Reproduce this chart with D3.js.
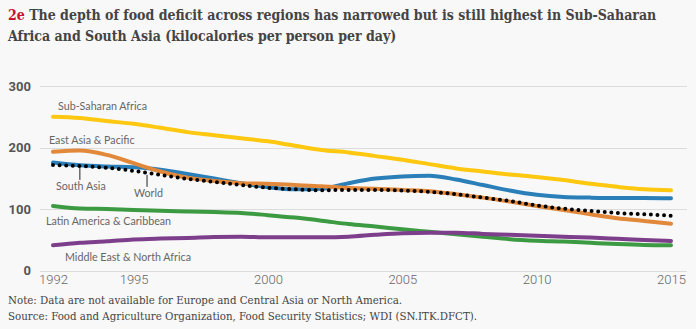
<!DOCTYPE html>
<meta charset="utf-8">
<style>

body {
  margin: 0;
  background: #f8f8f8;
}

svg {
  display: block;
  font-family: "Open Sans", sans-serif;
}

.title {
  font-family: "DejaVu Serif Condensed", "DejaVu Serif", serif;
  font-weight: bold;
  font-size: 14px;
  fill: #444;
}

.title .num {
  fill: #c4122f;
}

.note {
  font-family: "DejaVu Serif Condensed", "DejaVu Serif", serif;
  font-size: 11.4px;
  fill: #444;
}

.grid line {
  stroke: #dcdcdc;
  shape-rendering: crispEdges;
}

.axis--y text {
  font-family: Roboto, sans-serif;
  font-weight: bold;
  font-size: 13px;
  fill: #555;
}

.axis--x text {
  font-family: Roboto, sans-serif;
  font-weight: 300;
  font-size: 13px;
  fill: #666;
}

.series-label {
  font-family: Lato, sans-serif;
  font-size: 10.7px;
  fill: #666;
}

.line {
  fill: none;
  stroke-width: 4;
  stroke-linejoin: round;
  stroke-linecap: round;
}

</style>
<svg width="696" height="329"></svg>
<script src="https://d3js.org/d3.v7.min.js"></script>
<script>

var years = d3.range(1992, 2016);

var subSaharanAfrica = [250, 248, 243, 238.5, 232, 225, 220, 215, 210, 203, 196, 192, 186, 180, 173, 166, 161, 156, 152, 147, 141, 136, 132, 130.5];
var eastAsiaPacific  = [193, 195, 188, 174.5, 161, 151, 145.5, 142, 141, 139, 137, 134, 133, 131, 129, 124, 118.5, 112, 105, 98.5, 91.5, 85, 80.5, 76];
var southAsia        = [175.5, 171, 169, 168, 164, 157, 149.5, 142, 135.5, 132, 133, 142, 149.5, 153, 154, 148, 139, 130, 123, 119.5, 118.5, 118, 118, 117.5];
var world            = [171.5, 170, 167, 162, 155.5, 149, 144, 139, 134.5, 132, 130.5, 131, 131, 130, 128, 124, 118.5, 113, 106, 100.5, 97, 93.5, 91.5, 89];
var latinAmerica     = [105, 101, 100, 98.5, 97, 96, 95, 93.5, 90, 86, 81, 75.5, 71.5, 67, 63, 59, 55, 51, 48.5, 47, 45, 43, 41.5, 41];
var middleEast       = [41, 45, 47.5, 50.5, 52, 53, 54.5, 55, 54, 54, 54, 55, 58, 60.5, 61.5, 61.5, 59.5, 58, 56.5, 55, 53.5, 51.5, 49.5, 48];

var yTicks = [0, 100, 200, 300];
var xTicks = [1992, 1995, 2000, 2005, 2010, 2015];

var series = [
  {name: "Latin America & Caribbean", values: latinAmerica, color: "#3c9a42"},
  {name: "Middle East & North Africa", values: middleEast, color: "#7d3f8b"},
  {name: "Sub-Saharan Africa", values: subSaharanAfrica, color: "#fdc80f"},
  {name: "South Asia", values: southAsia, color: "#2a7fb8"},
  {name: "East Asia & Pacific", values: eastAsiaPacific, color: "#e2883a"},
  {name: "World", values: world, color: "#000", dotted: true}
];

var svg = d3.select("svg");

var x = d3.scaleLinear()
    .domain([1992, 2015])
    .range([53, 671]);

var y = d3.scaleLinear()
    .domain([0, 300])
    .range([270.5, 86]);

// title
var title = svg.append("text")
    .attr("class", "title")
    .attr("x", 8)
    .attr("y", 20);
title.append("tspan").attr("class", "num").text("2e ");
title.append("tspan").text("The depth of food deficit across regions has narrowed but is still highest in Sub-Saharan");
svg.append("text")
    .attr("class", "title")
    .attr("x", 8)
    .attr("y", 41)
    .text("Africa and South Asia (kilocalories per person per day)");

// grid
svg.append("g")
    .attr("class", "grid")
    .selectAll("line")
    .data(yTicks)
  .enter().append("line")
    .attr("x1", 40)
    .attr("x2", 687)
    .attr("y1", function(d) { return Math.round(y(d)) + 0.5; })
    .attr("y2", function(d) { return Math.round(y(d)) + 0.5; });

var yAxis = d3.axisLeft(y)
    .tickValues(yTicks)
    .tickSize(0)
    .tickPadding(0);

svg.append("g")
    .attr("class", "axis axis--y")
    .attr("transform", "translate(31,0)")
    .call(yAxis)
    .call(function(g) { g.select(".domain").remove(); });

var xAxis = d3.axisBottom(x)
    .tickValues(xTicks)
    .tickFormat(d3.format("d"))
    .tickSize(0)
    .tickPadding(0);

svg.append("g")
    .attr("class", "axis axis--x")
    .attr("transform", "translate(0,275)")
    .call(xAxis)
    .call(function(g) { g.select(".domain").remove(); });

var line = d3.line()
    .curve(d3.curveMonotoneX)
    .x(function(d, i) { return x(years[i]); })
    .y(function(d) { return y(d); });

svg.append("g")
    .selectAll("path")
    .data(series)
  .enter().append("path")
    .attr("class", "line")
    .attr("d", function(d) { return line(d.values); })
    .attr("stroke", function(d) { return d.color; })
    .attr("stroke-width", function(d) { return d.dotted ? 3.6 : 4; })
    .attr("stroke-dasharray", function(d) { return d.dotted ? "0,6.6" : null; });

// leader lines for South Asia and World
var leaders = [
  {year: 1993, value: world[1], len: 12},
  {year: 1995.5, value: (world[3] + world[4]) / 2, len: 12}
];

svg.append("g")
    .selectAll("line")
    .data(leaders)
  .enter().append("line")
    .attr("x1", function(d) { return x(d.year); })
    .attr("x2", function(d) { return x(d.year); })
    .attr("y1", function(d) { return y(d.value) + 2; })
    .attr("y2", function(d) { return y(d.value) + 2 + d.len; })
    .attr("stroke", "#222")
    .attr("stroke-width", 1);

var labels = [
  {text: "Sub-Saharan Africa", x: 58, y: 110},
  {text: "East Asia & Pacific", x: 49, y: 144},
  {text: "South Asia", x: 56, y: 190},
  {text: "World", x: 134, y: 197},
  {text: "Latin America & Caribbean", x: 46, y: 225},
  {text: "Middle East & North Africa", x: 65, y: 261}
];

svg.append("g")
    .selectAll("text")
    .data(labels)
  .enter().append("text")
    .attr("class", "series-label")
    .attr("x", function(d) { return d.x; })
    .attr("y", function(d) { return d.y; })
    .text(function(d) { return d.text; });

svg.append("text")
    .attr("class", "note")
    .attr("x", 8)
    .attr("y", 304)
    .text("Note: Data are not available for Europe and Central Asia or North America.");

svg.append("text")
    .attr("class", "note")
    .attr("x", 8)
    .attr("y", 320)
    .text("Source: Food and Agriculture Organization, Food Security Statistics; WDI (SN.ITK.DFCT).");

</script>
